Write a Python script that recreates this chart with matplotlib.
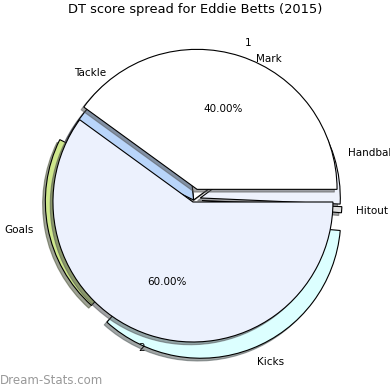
import numpy as np
import matplotlib
matplotlib.use("Agg")
import matplotlib.pyplot as plt

# outer ring: share of DT score per stat (percent)
stats = ["Handbal", "Mark", "Tackle", "Goals", "Kicks", "Hitout"]
stat_share = [10.8, 16.5, 16.1, 20.6, 35.3, 0.7]
stat_explode = [0.05, 0.0, 0.0, 0.06, 0.14, 0.06]
stat_colors = ["#eef2fc", "#ffffff", "#b9d5fa", "#cfe88c", "#dcffff", "#e0e0e0"]

# inner pie
groups = ["1", "2"]
group_share = [40, 60]
group_explode = [0.08, 0.015]
group_colors = ["#ffffff", "#ecf1fd"]

fig = plt.figure(figsize=(3.9, 3.9), dpi=100)
ax = fig.add_axes([0, 0, 1, 1])

shadow = dict(ox=-0.014, oy=-0.014)
ax.pie(stat_share, labels=stats, explode=stat_explode, colors=stat_colors,
       shadow=shadow, startangle=-2.5,
       wedgeprops=dict(edgecolor="black", linewidth=0.8, zorder=1),
       textprops=dict(fontsize=7.5))
# inner pie (and its shadow) sits on top of the outer one
ax.pie(group_share, labels=groups, explode=group_explode, colors=group_colors,
       shadow=shadow, startangle=0, autopct="%1.2f%%",
       wedgeprops=dict(edgecolor="black", linewidth=0.8, zorder=2),
       textprops=dict(fontsize=7.5))

# put the pie centre where the reference has it
ax.set_xlim(-193.6 / 140, (390 - 193.6) / 140)
ax.set_ylim(-190 / 140, (390 - 190) / 140)
ax.set_aspect("equal")
ax.axis("off")

fig.text(0.5, 1 - 10 / 390, "DT score spread for Eddie Betts (2015)",
         ha="center", va="center", fontsize=9.4)
fig.text(0.0, 1 - 380 / 390, "Dream-Stats.com", ha="left", va="center",
         fontsize=8.5, color="#999999")

fig.savefig("out.png", dpi=100)
